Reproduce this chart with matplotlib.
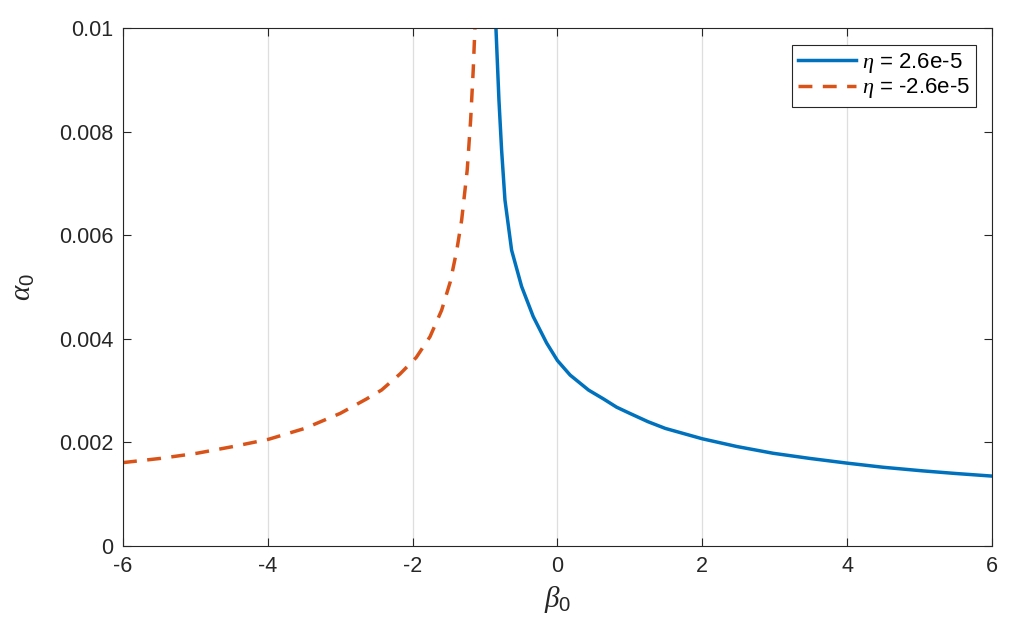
import matplotlib
matplotlib.use("Agg")
import matplotlib.pyplot as plt

plt.rcParams['font.family'] = ['Liberation Sans', 'DejaVu Sans']
plt.rcParams['mathtext.fontset'] = 'custom'
plt.rcParams['mathtext.rm'] = 'Liberation Sans'
plt.rcParams['mathtext.it'] = 'Liberation Serif:italic'

# eta = 2.6e-5 branch
beta_pos = [-0.85, -0.808, -0.771, -0.725, -0.633, -0.495, -0.335, -0.150, 0.0, 0.175,
            0.43, 0.635, 0.817, 1.0, 1.25, 1.49, 2.0, 2.48, 2.98, 3.49,
            4.0, 4.5, 5.05, 5.5, 6.0]
alpha_pos = [0.01002, 0.00861, 0.00764, 0.00668, 0.00571, 0.00501, 0.00443, 0.00392, 0.00358, 0.00330,
             0.00301, 0.00284, 0.00268, 0.00256, 0.00240, 0.00227, 0.00207, 0.00192, 0.00179, 0.00169,
             0.00160, 0.00152, 0.00145, 0.00140, 0.00135]

# eta = -2.6e-5 branch
beta_neg = [-6.0, -5.49, -4.98, -4.48, -3.99, -3.49, -3.0, -2.635, -2.43, -2.175,
            -1.95, -1.76, -1.60, -1.48, -1.39, -1.323, -1.246, -1.199, -1.163, -1.139]
alpha_neg = [0.00161, 0.00169, 0.00179, 0.00192, 0.00206, 0.00227, 0.00256, 0.00284, 0.00301, 0.00332,
             0.00364, 0.00404, 0.00455, 0.00510, 0.00571, 0.00629, 0.00726, 0.00822, 0.00919, 0.01002]

xticks = [-6, -4, -2, 0, 2, 4, 6]
yticks = [0, 0.002, 0.004, 0.006, 0.008, 0.01]
ytick_labels = ['0', '0.002', '0.004', '0.006', '0.008', '0.01']

fig = plt.figure(figsize=(10.15, 6.42), dpi=100)
ax = fig.add_axes([0.1212, 0.1495, 0.856, 0.807])

ax.plot(beta_pos, alpha_pos, color='#0072BD', lw=2.5, label=r'$\eta$ = 2.6e-5')
ax.plot(beta_neg, alpha_neg, color='#D95319', lw=2.5, ls=(0, (4.0, 3.0)),
        label=r'$\eta$ = -2.6e-5')

ax.set_xlim(-6, 6)
ax.set_ylim(0, 0.01)
ax.set_xticks(xticks)
ax.set_xticklabels([str(t) for t in xticks])
ax.set_yticks(yticks)
ax.set_yticklabels(ytick_labels)
ax.grid(axis='x', color='#dedede', lw=0.9)
ax.set_axisbelow(True)
ax.tick_params(direction='in', top=True, right=True, labelsize=15.5, length=6,
               width=0.8, colors='#262626', pad=7)
for s in ax.spines.values():
    s.set_color('#262626')
    s.set_linewidth(0.8)

ax.set_xlabel(r'$\beta_{\mathrm{0}}$', fontsize=21, color='#262626', labelpad=5)
ax.set_ylabel(r'$\alpha_{\mathrm{0}}$', fontsize=21, color='#262626', labelpad=16)

leg = ax.legend(loc='upper right', fontsize=16, fancybox=False, framealpha=1,
                edgecolor='#262626', handlelength=2.6, borderpad=0.28,
                labelspacing=0.05, handletextpad=0.25, borderaxespad=0,
                bbox_to_anchor=(0.9816, 0.967))
leg.get_frame().set_linewidth(0.8)

fig.savefig('out.png', dpi=100)
